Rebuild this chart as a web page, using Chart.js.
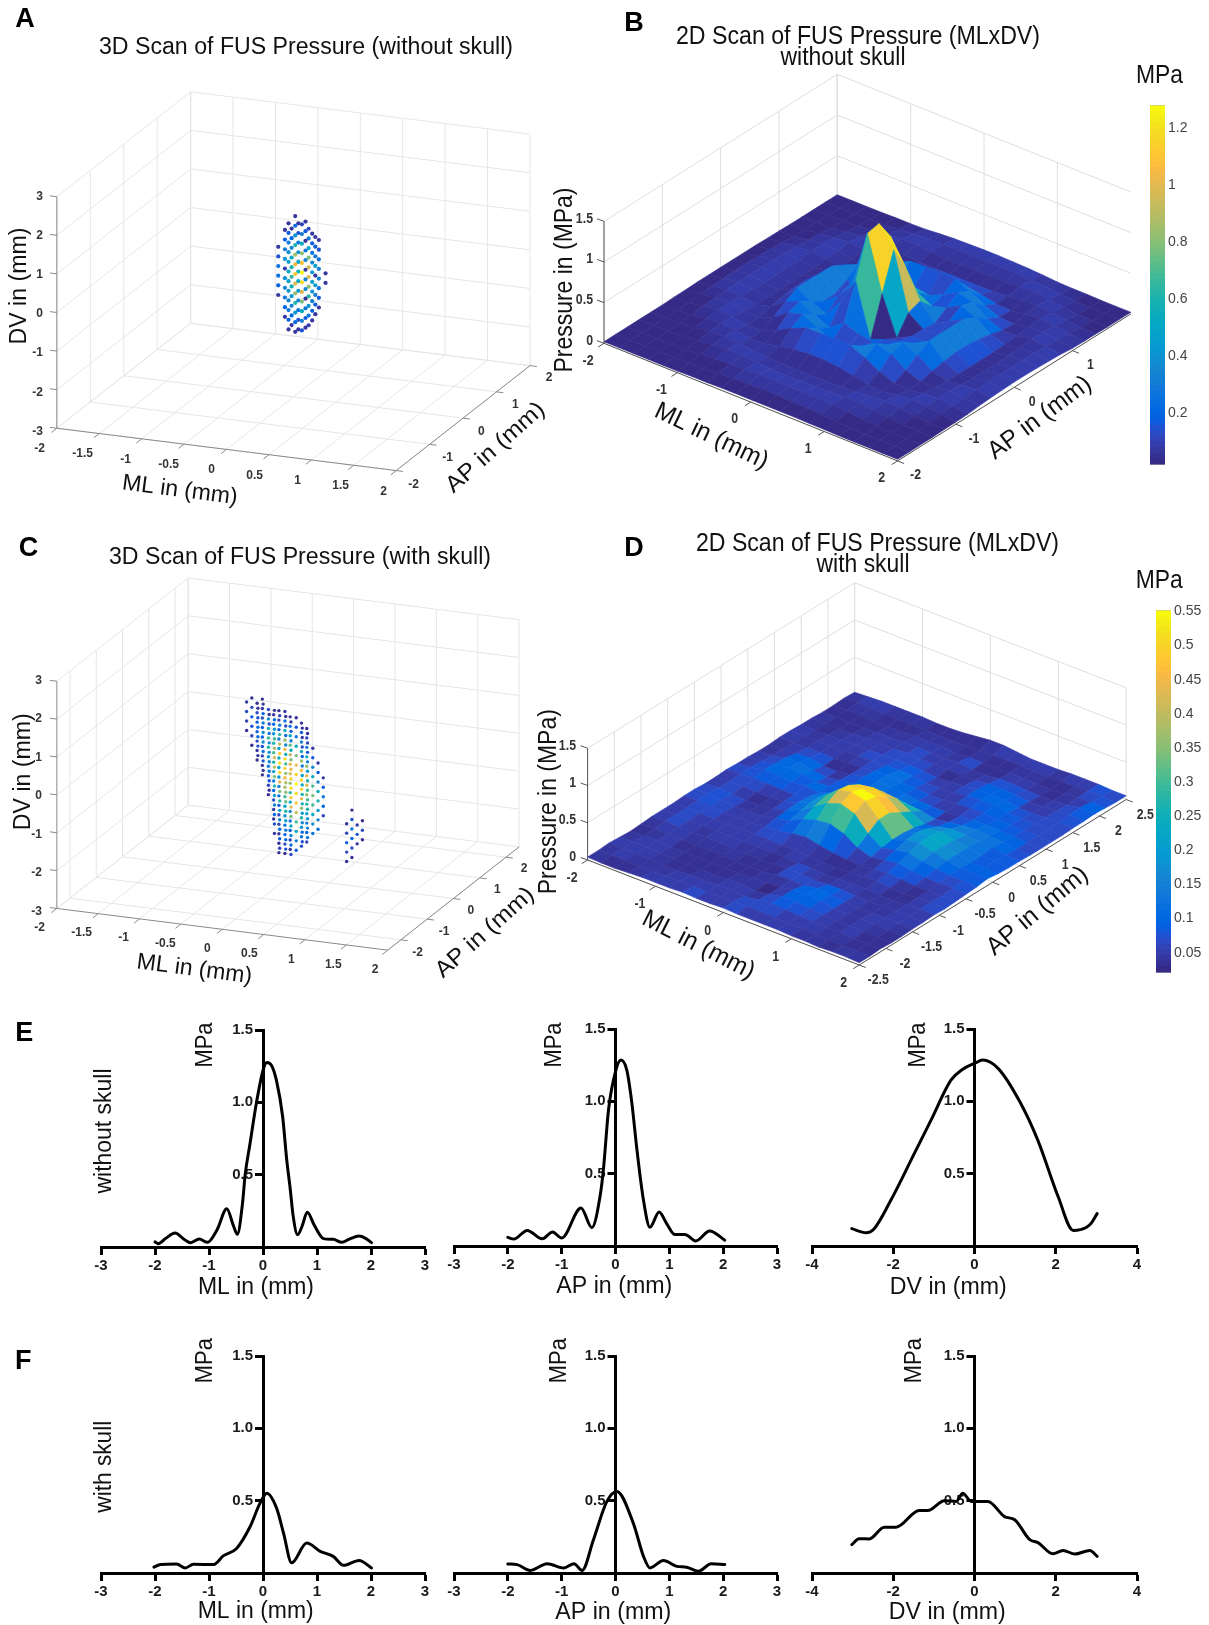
<!DOCTYPE html>
<html><head><meta charset="utf-8"><title>FUS pressure scans</title>
<style>html,body{margin:0;padding:0;background:#fff}body{position:relative;width:1209px;height:1625px;overflow:hidden}canvas{position:absolute}</style>
<script src="https://cdn.jsdelivr.net/npm/chart.js@4"></script></head><body>
<script>
// ---------- profile curves (mm, MPa) ----------
const eMlX=[-2,-1.94,-1.8,-1.63,-1.45,-1.34,-1.18,-1.03,-0.85,-0.67,-0.55,-0.475,-0.38,-0.33,-0.24,-0.12,0,0.07,0.15,0.25,0.364,0.44,0.5,0.56,0.64,0.72,0.82,0.95,1.12,1.3,1.46,1.6,1.78,1.9,2.01];
const eMlP=[.035,.023,.06,.097,.05,.03,.055,.032,.12,.265,.15,.088,.3,.5,.715,1.0,1.22,1.276,1.26,1.15,.9,.6,.415,.21,.085,.14,.24,.15,.058,.053,.032,.055,.076,.06,.03];
const eApX=[-2,-1.89,-1.64,-1.36,-1.17,-1,-.64,-.44,-.28,-.22,-.13,0,.1,.21,.3,.4,.52,.64,.81,.95,1.1,1.29,1.49,1.75,2.03];
const eApP=[.06,.048,.108,.05,.097,.055,.263,.127,.36,.547,.94,1.205,1.285,1.216,1.0,.66,.316,.13,.235,.155,.08,.08,.035,.104,.04];
const eDvX=[-3.02,-2.67,-2.47,-2.06,-1.48,-1.07,-.58,-.3,0,.2,.58,1.11,1.56,2.06,2.43,2.76,2.88,3.02];
const eDvP=[.12,.092,.12,.316,.64,.87,1.147,1.22,1.262,1.285,1.228,1.0,.73,.34,.108,.13,.16,.224];
const fMlX=[-2.02,-1.9,-1.6,-1.44,-1.29,-.92,-.73,-.49,-.24,-.055,.07,.25,.38,.53,.81,1.06,1.3,1.49,1.78,2.01];
const fMlP=[.04,.058,.062,.035,.06,.058,.12,.17,.32,.483,.552,.45,.276,.07,.207,.15,.115,.053,.087,.035];
const fApX=[-2,-1.83,-1.58,-1.27,-.96,-.77,-.62,-.41,-.16,.025,.33,.52,.64,.89,1.14,1.32,1.54,1.78,2.03];
const fApP=[.062,.058,.018,.064,.035,.064,.018,.23,.495,.564,.345,.115,.035,.087,.046,.04,.012,.064,.058];
const fDvX=[-3.02,-2.84,-2.59,-2.22,-1.93,-1.36,-1.15,-.74,-.45,-.29,-.08,.33,.74,.99,1.36,1.56,1.93,2.18,2.47,2.84,3.02];
const fDvP=[.196,.237,.235,.317,.317,.432,.432,.5,.495,.552,.495,.495,.39,.368,.23,.21,.133,.156,.131,.156,.115];
// ---------- tick values ----------
const mlTicksFine=[-2,-1.5,-1,-.5,0,.5,1,1.5,2];
const mlTicksCoarse=[-2,-1,0,1,2];
const apTicksFour=[-2,-1,0,1,2];
const apLabelsB=[-2,-1,0,1];
const apTicksD=[-2.5,-2,-1.5,-1,-.5,0,.5,1,1.5,2,2.5];
const dvTicks=[-3,-2,-1,0,1,2,3];
const pressureTicks=[0,.5,1,1.5];
const colorbarTicksB=[.2,.4,.6,.8,1,1.2];
const colorbarTicksD=[.05,.1,.15,.2,.25,.3,.35,.4,.45,.5,.55];
// ---------- 3D scans: [ML, AP, lowest DV, pressures going up in 0.25 mm DV steps] ----------
const scanWithoutSkull=[
[-.1,-.2,-.25,[.05,.18,.24,.26,.14,.05]],
[-.1,0,-.95,[.05,.2,.28,.34,.4,.07,.42,.3,.18,.05]],
[-.1,.2,-1.3,[.05,.2,.3,.42,.55,.65,.6,.5,.36,.2,.06]],
[-.1,.4,-1.55,[.05,.14,.25,.34,.44,.52,.56,.5,.4,.28,.14,.05]],
[.1,-.4,-.95,[.06,.18,.26,.34,.42,.48,.52,.46,.38,.28,.16,.05]],
[.1,-.2,-1.15,[.06,.22,.42,.62,.82,1.0,1.12,1.05,.85,.6,.4,.22,.06]],
[.1,0,-1.25,[.14,.3,.52,.78,1.0,1.2,1.27,1.1,.82,.52,.3,.1]],
[.1,.2,-1.25,[.08,.25,.42,.62,.82,1.0,.95,.78,.5,.3,.1]],
[.1,.4,-1.1,[.05,.16,.3,.45,.05,.45,.3,.16,.05]],
[.3,-.4,-.85,[.05,.16,.26,.04,.36,.34,.05,.34,.26,.04,.16,.05]],
[.3,-.2,-.8,[.05,.18,.3,.4,.46,.44,.36,.25,.16,.05]],
[.3,0,-.6,[.05,.16,.26,.32,.32,.24,.14,.05]],
[.3,.2,-.1,[.05,.06]]];
const scanWithSkull=[
[-.5,0,.75,[.03,.05,.06,.04]],
[-.5,.2,.25,[.03,.05,.07,.08,.06,.03]],
[-.5,.4,-.25,[.03,.04,.06,.08,.08,.06,.03]],
[-.5,.6,-.75,[.03,.04,.05,.07,.09,.08,.06,.04,.03]],
[-.3,-.2,.25,[.04,.07,.1,.1,.07,.04]],
[-.3,0,-.25,[.04,.07,.12,.16,.17,.14,.09,.04]],
[-.3,.2,-1,[.03,.05,.08,.14,.2,.26,.3,.26,.16,.06]],
[-.3,.4,-1.75,[.03,.04,.06,.09,.14,.2,.26,.3,.26,.18,.1,.04]],
[-.3,.6,-2.75,[.03,.03,.04,.05,.06,.08,.1,.14,.18,.22,.24,.2,.14,.08,.05,.03]],
[-.1,-.4,-.5,[.04,.08,.12,.16,.18,.16,.12,.07,.04]],
[-.1,-.2,-1.75,[.04,.07,.1,.15,.2,.27,.34,.4,.42,.38,.3,.2,.1,.04]],
[-.1,0,-2.25,[.05,.08,.1,.15,.2,.27,.35,.44,.5,.52,.48,.4,.28,.14,.05]],
[-.1,.2,-2.5,[.03,.06,.09,.12,.17,.22,.3,.38,.46,.5,.52,.46,.36,.24,.12,.04]],
[-.1,.4,-2.5,[.03,.06,.09,.12,.16,.22,.28,.36,.42,.44,.4,.32,.22,.12,.04]],
[.1,-.4,-2,[.07,.1,.14,.2,.26,.32,.36,.38,.36,.3,.24,.16,.1,.06,.03]],
[.1,-.2,-2.25,[.06,.1,.16,.24,.33,.42,.48,.52,.5,.44,.34,.24,.15,.08,.04]],
[.1,0,-2.25,[.08,.14,.22,.3,.4,.48,.52,.55,.5,.44,.34,.24,.14,.07,.03]],
[.1,.2,-2.25,[.06,.12,.18,.26,.36,.44,.5,.52,.46,.36,.25,.15,.08,.03]],
[.1,.4,-2.25,[.05,.09,.14,.2,.28,.36,.42,.44,.36,.24,.13,.06,.03]],
[.3,-.4,-1.75,[.07,.11,.15,.2,.24,.26,.24,.2,.14,.09,.06,.04,.03]],
[.3,-.2,-1.75,[.1,.15,.2,.26,.3,.3,.26,.2,.14,.08,.05,.03]],
[.3,0,-1.75,[.12,.17,.24,.3,.34,.3,.24,.16,.08,.04]],
[.3,.2,-1.75,[.1,.15,.2,.26,.24,.16,.08,.04]],
[.3,.4,-1.5,[.05,.09,.12,.08,.04]],
[.9,-.6,-2,[.03,.05,.08,.05,.03]],
[.9,-.4,-2,[.03,.06,.1,.12,.07,.03]],
[.9,-.2,-1.75,[.04,.07,.04]],
[.9,0,-1.75,[.03,.06,.03]]];
// ---------- 2D scans: rows by ML (-2..2, 0.2 step), columns by AP ----------
const surfaceWithoutSkull=[
[.02,.02,.02,.02,.02,.02,.025,.025,.03,.03,.03,.03,.03,.03,.025,.025,.02,.02,.02,.02,.02],
[.02,.02,.02,.02,.025,.025,.03,.045,.055,.06,.065,.065,.06,.055,.045,.03,.025,.025,.02,.02,.02],
[.02,.02,.02,.025,.03,.045,.06,.07,.08,.085,.085,.085,.085,.08,.07,.06,.045,.03,.025,.02,.02],
[.02,.02,.025,.03,.05,.07,.085,.085,.07,.065,.06,.06,.065,.07,.085,.085,.07,.05,.03,.025,.02],
[.02,.025,.03,.05,.07,.085,.07,.055,.04,.035,.035,.035,.035,.04,.055,.07,.085,.07,.05,.03,.025],
[.02,.025,.045,.07,.085,.07,.04,.05,.09,.12,.14,.14,.12,.09,.05,.04,.07,.085,.07,.045,.025],
[.025,.03,.06,.085,.07,.04,.05,.12,.22,.3,.3,.3,.3,.22,.12,.05,.04,.07,.085,.06,.03],
[.025,.045,.07,.085,.055,.05,.12,.25,.3,.2,.12,.12,.2,.3,.25,.12,.05,.055,.085,.07,.045],
[.03,.055,.08,.07,.04,.09,.22,.3,.2,.12,.25,.3,.15,.2,.3,.22,.09,.04,.07,.08,.055],
[.03,.06,.085,.065,.035,.12,.3,.2,.12,.35,.46,.85,.55,.3,.2,.3,.12,.035,.065,.085,.06],
[.03,.065,.085,.06,.035,.14,.3,.12,.25,.67,1.17,1.2,.95,.5,.15,.3,.14,.035,.06,.085,.065],
[.03,.065,.085,.06,.035,.14,.3,.12,.18,.03,.5,.95,.65,.25,.12,.3,.14,.035,.06,.085,.065],
[.03,.06,.085,.065,.035,.12,.3,.2,.15,.1,.03,.25,.3,.15,.2,.3,.12,.035,.065,.085,.06],
[.03,.055,.08,.07,.04,.09,.22,.3,.2,.15,.12,.12,.1,.2,.3,.22,.09,.04,.07,.08,.055],
[.025,.045,.07,.085,.055,.05,.12,.25,.3,.2,.12,.12,.2,.3,.25,.12,.05,.055,.085,.07,.045],
[.025,.03,.06,.085,.07,.04,.05,.12,.22,.3,.3,.3,.3,.22,.12,.05,.04,.07,.085,.06,.03],
[.02,.025,.045,.07,.085,.07,.04,.05,.09,.12,.14,.14,.12,.09,.05,.04,.07,.085,.07,.045,.025],
[.02,.025,.03,.05,.07,.085,.07,.055,.04,.035,.035,.035,.035,.04,.055,.07,.085,.07,.05,.03,.025],
[.02,.02,.025,.03,.05,.07,.085,.085,.07,.065,.06,.06,.065,.07,.085,.085,.07,.05,.03,.025,.02],
[.02,.02,.02,.025,.03,.045,.06,.07,.08,.085,.085,.085,.085,.08,.07,.06,.045,.03,.025,.02,.02],
[.02,.02,.02,.02,.025,.025,.03,.045,.055,.06,.065,.065,.06,.055,.045,.03,.025,.025,.02,.02,.02]];
const surfaceWithSkull=[
[.04,.04,.05,.04,.03,.04,.05,.05,.05,.06,.06,.05,.05,.06,.05,.05,.04,.04,.05,.05,.04,.04,.03,.03,.04,.03],
[.03,.05,.05,.05,.04,.05,.06,.06,.06,.07,.07,.06,.06,.07,.07,.06,.05,.05,.04,.04,.03,.03,.03,.04,.05,.04],
[.03,.04,.05,.05,.05,.05,.05,.05,.06,.06,.06,.05,.06,.08,.10,.10,.09,.06,.05,.05,.04,.03,.03,.04,.05,.05],
[.04,.04,.04,.04,.03,.04,.04,.05,.05,.05,.04,.03,.05,.08,.10,.11,.10,.07,.05,.05,.05,.04,.03,.03,.04,.05],
[.05,.04,.03,.03,.03,.04,.05,.05,.05,.05,.04,.04,.05,.07,.08,.10,.06,.03,.04,.05,.05,.05,.04,.03,.04,.05],
[.05,.05,.03,.03,.03,.04,.05,.05,.05,.05,.05,.06,.07,.07,.10,.06,.04,.03,.05,.06,.05,.05,.04,.03,.04,.05],
[.05,.05,.04,.03,.03,.04,.04,.05,.06,.07,.09,.11,.12,.11,.08,.08,.07,.06,.06,.06,.06,.05,.05,.04,.03,.04],
[.06,.05,.04,.03,.03,.03,.04,.05,.06,.08,.13,.17,.20,.20,.15,.10,.09,.1,.09,.07,.06,.06,.05,.04,.03,.04],
[.05,.05,.05,.04,.03,.03,.03,.04,.05,.12,.22,.30,.34,.33,.28,.20,.11,.11,.11,.08,.06,.05,.05,.04,.03,.05],
[.05,.05,.05,.04,.04,.03,.04,.05,.05,.14,.28,.42,.50,.48,.40,.26,.10,.1,.08,.07,.05,.05,.04,.03,.03,.07],
[.06,.06,.04,.02,.04,.06,.06,.04,.04,.10,.30,.48,.55,.50,.43,.28,.11,.08,.06,.05,.03,.05,.06,.04,.04,.09],
[.05,.06,.06,.05,.05,.06,.05,.04,.03,.07,.24,.42,.50,.47,.38,.26,.10,.06,.05,.05,.04,.04,.03,.03,.05,.09],
[.05,.06,.08,.09,.09,.06,.04,.03,.03,.05,.12,.22,.32,.32,.24,.16,.08,.05,.05,.06,.06,.05,.03,.03,.05,.07],
[.05,.05,.07,.09,.10,.09,.05,.04,.04,.04,.06,.10,.12,.12,.10,.06,.04,.05,.07,.09,.09,.07,.05,.04,.05,.05],
[.05,.05,.06,.07,.08,.07,.05,.04,.05,.06,.09,.14,.18,.20,.16,.10,.07,.06,.08,.1,.09,.07,.05,.04,.05,.05],
[.04,.05,.05,.05,.05,.05,.04,.05,.06,.08,.12,.17,.22,.22,.19,.14,.10,.08,.09,.1,.08,.06,.04,.03,.04,.05],
[.04,.04,.04,.04,.04,.04,.04,.03,.04,.07,.09,.13,.17,.16,.15,.13,.11,.09,.08,.07,.05,.04,.03,.03,.05,.06],
[.03,.04,.05,.05,.05,.04,.04,.03,.03,.05,.07,.10,.12,.12,.12,.12,.10,.08,.07,.06,.05,.05,.04,.04,.05,.06],
[.04,.03,.03,.04,.05,.05,.05,.05,.05,.05,.06,.08,.09,.08,.08,.10,.09,.07,.06,.06,.06,.06,.05,.06,.07,.06],
[.04,.03,.03,.03,.04,.05,.05,.06,.06,.06,.07,.08,.09,.08,.08,.07,.06,.06,.06,.06,.07,.08,.09,.07,.06,.05],
[.03,.03,.04,.03,.03,.04,.04,.05,.04,.05,.06,.07,.09,.07,.06,.06,.05,.05,.05,.05,.06,.06,.07,.06,.05,.05]];

// ---------- colormap ----------
const parula=[[.2081,.1663,.5292],[.2116,.1898,.5777],[.2123,.2138,.627],[.2081,.2386,.6771],[.1959,.2645,.7279],[.1707,.2919,.7792],[.1253,.3242,.8303],[.0591,.3598,.8683],[.0117,.3875,.882],[.006,.4086,.8828],[.0165,.4266,.8786],[.0329,.443,.872],[.0498,.4586,.8641],[.0629,.4737,.8554],[.0723,.4887,.8467],[.0779,.504,.8384],[.0793,.52,.8312],[.0749,.5375,.8263],[.0641,.557,.824],[.0488,.5772,.8228],[.0343,.5966,.8199],[.0265,.6137,.8135],[.0239,.6287,.8038],[.0231,.6418,.7913],[.0228,.6535,.7768],[.0267,.6642,.7607],[.0384,.6743,.7436],[.059,.6838,.7254],[.0843,.6928,.7062],[.1133,.7015,.6859],[.1453,.7098,.6646],[.1801,.7177,.6424],[.2178,.725,.6193],[.2586,.7317,.5954],[.3022,.7376,.5712],[.3482,.7424,.5473],[.3953,.7459,.5244],[.442,.7481,.5033],[.4871,.7491,.484],[.53,.7491,.4661],[.5709,.7485,.4494],[.6099,.7473,.4337],[.6473,.7456,.4188],[.6834,.7435,.4044],[.7184,.7411,.3905],[.7525,.7384,.3768],[.7858,.7356,.3633],[.8185,.7327,.3498],[.8507,.7299,.336],[.8824,.7274,.3217],[.9139,.7258,.3063],[.945,.7261,.2886],[.9739,.7314,.2666],[.9938,.7455,.2403],[.999,.7653,.2164],[.9955,.7861,.1967],[.988,.8066,.1794],[.9789,.8271,.1633],[.9697,.8481,.1475],[.9626,.8705,.1309],[.9589,.8949,.1132],[.9598,.9218,.0948],[.9661,.9514,.0755],[.9763,.9831,.0538]];
function colorOf(v,lo,hi){const i=Math.max(0,Math.min(63,Math.round((v-lo)/(hi-lo)*63)));const c=parula[i];return `rgb(${c[0]*255|0},${c[1]*255|0},${c[2]*255|0})`;}

// ---------- shared helpers ----------
const FONT='"Liberation Sans", Arial, sans-serif';
function makeCanvas(l,t,w,h){const c=document.createElement('canvas');c.width=w;c.height=h;c.style.cssText=`left:${l}px;top:${t}px;width:${w}px;height:${h}px`;document.body.appendChild(c);return c;}
function txt(t,x,y,o={}){return Object.assign({t,x,y,size:22,color:'#111',rot:0,align:'center',bold:false},o);}
function textPlugin(items,l,t){return{id:'txt',afterDraw(chart){const c=chart.ctx;for(const a of items){c.save();c.translate(a.x-l,a.y-t);c.rotate((a.rot||0)*Math.PI/180);c.font=`${a.bold?'bold ':''}${a.size}px ${FONT}`;c.fillStyle=a.color;c.textAlign=a.align;c.textBaseline='middle';let sx=a.sx||1;if(a.w)sx=a.w/c.measureText(a.t).width;c.scale(sx,1);c.fillText(a.t,0,1.5);c.restore();}}};}
function panelLetter(t,x,y){return txt(t,x,y,{size:27,bold:true,color:'#000'});}

// ---------- 3D panels ----------
function panel3D(cfg){
 const [l,t,w,h]=cfg.rect,P=(a,b,c)=>({x:cfg.o[0]+(a-cfg.mlR[0])*cfg.ml[0]+(b-cfg.apR[0])*cfg.ap[0],y:cfg.o[1]+(a-cfg.mlR[0])*cfg.ml[1]+(b-cfg.apR[0])*cfg.ap[1]+(c-cfg.zR[0])*cfg.zy});
 const [m0,m1]=cfg.mlR,[a0,a1]=cfg.apR,[z0,z1]=cfg.zR,gap={x:NaN,y:NaN},grid=[],axis=[];
 const seg=(arr,p,q)=>arr.push(p,q,gap);
 for(const m of cfg.mlGrid){seg(grid,P(m,a0,z0),P(m,a1,z0));}
 for(const m of cfg.backV){seg(grid,P(m,a1,z0),P(m,a1,z1));}
 for(const a of cfg.apGrid){seg(grid,P(m1,a,z0),P(m0,a,z0));seg(grid,P(m0,a,z0),P(m0,a,z1));}
 for(const z of cfg.zTicks){seg(grid,P(m0,a0,z),P(m0,a1,z));seg(grid,P(m0,a1,z),P(m1,a1,z));}
 seg(grid,P(m0,a1,z0),P(m0,a1,z1));
 const un=v=>{const n=Math.hypot(v[0],v[1]);return[v[0]/n,v[1]/n];},tk=cfg.tickLen,uA=un(cfg.ap),uM=un(cfg.ml);
 seg(axis,P(m0,a0,z0),P(m1,a0,z0));seg(axis,P(m1,a0,z0),P(m1,a1,z0));seg(axis,P(m0,a0,z0),P(m0,a0,z1));
 const items=[...cfg.texts];
 const lab=cfg.labelStyle;
 for(const v of cfg.mlLabels){const p=P(v,a0,z0);seg(axis,p,{x:p.x-uA[0]*tk,y:p.y-uA[1]*tk});items.push(txt(String(v),p.x+cfg.mlOff[0],p.y+cfg.mlOff[1],lab));}
 for(const v of cfg.apLabels){const p=P(m1,v,z0);seg(axis,p,{x:p.x+uM[0]*tk,y:p.y+uM[1]*tk});items.push(txt(String(v),p.x+cfg.apOff[0],p.y+cfg.apOff[1],lab));}
 for(const v of cfg.zTicks){const p=P(m0,a0,v);seg(axis,p,{x:p.x-tk,y:p.y-uM[1]*tk});items.push(txt(String(v),cfg.zLabelX,p.y+cfg.zOffY,Object.assign({},lab,{align:'right'})));}
 const datasets=[
  {type:'scatter',label:'grid',data:grid,showLine:true,borderColor:cfg.gridColor,borderWidth:1,pointRadius:0,spanGaps:false,order:3},
  {type:'scatter',label:'axes',data:axis,showLine:true,borderColor:cfg.axisColor,borderWidth:1,pointRadius:0,spanGaps:false,order:2}];
 if(cfg.scan){const pts=[],cols=[];for(const [m,a,d0,ps] of cfg.scan){ps.forEach((v,i)=>{pts.push(P(m,a,d0+i*.25));cols.push(colorOf(v,cfg.cLim[0],cfg.cLim[1]));});}
  datasets.push({type:'scatter',label:'scan',data:pts,pointRadius:cfg.dot,pointBorderWidth:0,pointBackgroundColor:cols,order:1});}
 const plugins=[textPlugin(items,l,t)];
 if(cfg.surface){const S=cfg.surface,ap=i=>cfg.apR[0]+i*.2,ml=i=>cfg.mlR[0]+i*.2;
  plugins.unshift({id:'surf',afterDatasetsDraw(ch){const c=ch.ctx,X=ch.scales.x,Y=ch.scales.y;c.save();c.lineJoin='round';
   const nA=S[0].length;
   for(let j=nA-2;j>=0;j--)for(let i=0;i<S.length-1;i++){
    const vs=[[i,j],[i+1,j],[i+1,j+1],[i,j+1]],col=colorOf(S[i][j],cfg.cLim[0],cfg.cLim[1]);
    c.beginPath();vs.forEach(([q,r],n)=>{const p=P(ml(q),ap(r),S[q][r]);const px=X.getPixelForValue(p.x),py=Y.getPixelForValue(p.y);n?c.lineTo(px,py):c.moveTo(px,py);});c.closePath();c.fillStyle=col;c.strokeStyle=col;c.lineWidth=.6;c.fill();c.stroke();}
   c.restore();}});}
 new Chart(makeCanvas(l,t,w,h),{type:'scatter',data:{datasets},plugins,options:{animation:false,responsive:false,devicePixelRatio:1,layout:{padding:0},events:[],
  plugins:{legend:{display:false},tooltip:{enabled:false},title:{display:false}},
  scales:{x:{type:'linear',display:false,min:l,max:l+w},y:{type:'linear',display:false,reverse:true,min:t,max:t+h}}}});
}
const lbl3D={size:12,bold:true,color:'#333'};
const lblSurf={size:14,bold:true,color:'#333',sx:.88};
panel3D({rect:[0,0,590,510],o:[53.6,431],ml:[86,10.75],ap:[33.9,-26.65],zy:-39.2,mlR:[-2,2],apR:[-2,2],zR:[-3,3],
 mlGrid:mlTicksFine,backV:mlTicksFine,apGrid:apTicksFour,zTicks:dvTicks,mlLabels:mlTicksFine,apLabels:apTicksFour,
 mlOff:[-14,16],apOff:[16,9],zLabelX:43,zOffY:-1,tickLen:7,gridColor:'#e6e6e6',axisColor:'#8a8a8a',labelStyle:lbl3D,
 scan:scanWithoutSkull,cLim:[.02,1.28],dot:2.1,
 texts:[panelLetter('A',25,18),txt('3D Scan of FUS Pressure (without skull)',306,46,{size:23,w:414}),
  txt('DV in (mm)',18.6,286,{size:23,w:117,rot:-90}),txt('ML in (mm)',180,489,{size:23,w:116,rot:7.5}),txt('AP in (mm)',494.6,446.7,{size:23,w:124,rot:-41.8})]});
panel3D({rect:[0,510,570,490],o:[53.6,911],ml:[83.9,10.6],ap:[26.64,-21],zy:-38.5,mlR:[-2,2],apR:[-2.5,2.5],zR:[-3,3],
 mlGrid:mlTicksFine,backV:mlTicksFine,apGrid:apTicksFour,zTicks:dvTicks,mlLabels:mlTicksFine,apLabels:apTicksFour,
 mlOff:[-14,15],apOff:[15,8],zLabelX:42,zOffY:-1,tickLen:7,gridColor:'#e6e6e6',axisColor:'#8a8a8a',labelStyle:lbl3D,
 scan:scanWithSkull,cLim:[.02,.55],dot:1.7,
 texts:[panelLetter('C',28.6,546.7),txt('3D Scan of FUS Pressure (with skull)',300,555.7,{size:23,w:382}),
  txt('DV in (mm)',22,771.7,{size:23,w:117,rot:-90}),txt('ML in (mm)',194.6,968,{size:23,w:116,rot:7.5}),txt('AP in (mm)',484,931.7,{size:23,w:124,rot:-41.8})]});
panel3D({rect:[540,0,669,510],o:[604,343.3],ml:[73.4,29.4],ap:[58.3,-36.75],zy:-81.3,mlR:[-2,2],apR:[-2,2],zR:[0,1.5],
 mlGrid:mlTicksCoarse,backV:[-1,0,1],apGrid:apTicksFour,zTicks:pressureTicks,mlLabels:mlTicksCoarse,apLabels:apLabelsB,
 mlOff:[-16,16],apOff:[18,13],zLabelX:593,zOffY:-4,tickLen:7,gridColor:'#dedede',axisColor:'#555',labelStyle:lblSurf,
 surface:surfaceWithoutSkull,cLim:[.021,1.28],
 texts:[panelLetter('B',634,22),txt('2D Scan of FUS Pressure (MLxDV)',858,36,{size:25,w:364}),txt('without skull',843,57,{size:25,w:125}),
  txt('Pressure in (MPa)',563.5,280,{size:25,w:185,rot:-90}),txt('ML in (mm)',712,435,{size:25,w:123,rot:25.6}),txt('AP in (mm)',1039,416.7,{size:25,w:122,rot:-36.7}),
  txt('MPa',1159.5,75,{size:25,w:47})]});
panel3D({rect:[525,510,684,490],o:[587.6,860],ml:[67.9,26.25],ap:[53.4,-33.1],zy:-74.5,mlR:[-2,2],apR:[-2.5,2.5],zR:[0,1.5],
 mlGrid:mlTicksCoarse,backV:[-1,0,1,2],apGrid:apTicksD,zTicks:pressureTicks,mlLabels:mlTicksCoarse,apLabels:apTicksD,
 mlOff:[-15.6,16.7],apOff:[19,14],zLabelX:576,zOffY:-4,tickLen:7,gridColor:'#dedede',axisColor:'#555',labelStyle:lblSurf,
 surface:surfaceWithSkull,cLim:[.021,.55],
 texts:[panelLetter('D',634,546.7),txt('2D Scan of FUS Pressure (MLxDV)',877.5,542.3,{size:25,w:363}),txt('with skull',863,564,{size:25,w:93}),
  txt('Pressure in (MPa)',548,801.7,{size:25,w:185,rot:-90}),txt('ML in (mm)',699,944,{size:25,w:123,rot:27}),txt('AP in (mm)',1036.7,910,{size:25,w:124,rot:-40}),
  txt('MPa',1159.3,579.3,{size:25,w:47})]});

// ---------- colour bars ----------
function colorbar(left,top,barW,barH,lo,hi,ticks,fmt){
 const datasets=parula.map((c,i)=>({data:[[lo+(hi-lo)*i/64,lo+(hi-lo)*(i+1)/64+.0005]],backgroundColor:colorOf(lo+(hi-lo)*i/63,lo,hi),grouped:false,barPercentage:1,categoryPercentage:1,borderWidth:0}));
 datasets.push({data:[[lo,hi]],backgroundColor:'rgba(0,0,0,0)',borderColor:'#777',borderWidth:1,borderSkipped:false,grouped:false,barPercentage:1,categoryPercentage:1});
 new Chart(makeCanvas(left-2,top-8,barW+2+40,barH+16),{type:'bar',data:{labels:[''],datasets},options:{animation:false,responsive:false,devicePixelRatio:1,events:[],
  layout:{padding:{left:2,right:0,top:8,bottom:8}},plugins:{legend:{display:false},tooltip:{enabled:false}},
  scales:{x:{display:false},y:{type:'linear',position:'right',min:lo,max:hi,afterFit(s){s.width=40;},afterBuildTicks(s){s.ticks=ticks.map(v=>({value:v}));},
   grid:{display:false,drawTicks:false},border:{display:false},ticks:{padding:3,color:'#444',font:{family:'"Liberation Sans Narrow","Liberation Sans",sans-serif',size:14},callback:fmt}}}}});
}
colorbar(1150,102,15,366,.021,1.28,colorbarTicksB,v=>String(v));
colorbar(1156,607,15,369,.0208,.5515,colorbarTicksD,v=>String(v));

// ---------- profile charts ----------
const yAxisAtZero={id:'yAxisAtZero',beforeDraw(chart){const y=chart.scales.y,d=chart.scales.x.getPixelForValue(0)-y.right;if(Math.abs(d)>.01){y.left+=d;y.right+=d;y._gridLineItems=null;y._labelItems=null;}}};
function profile(xs,ys,xMin,xMax,step,x0px,x1px,yTop,yBot,extra){
 const padL=100,padR=30,padT=35,axisH=60,w=x1px-x0px+padL+padR,h=yBot-yTop+padT+axisH,l=x0px-padL,t=yTop-padT;
 const AX=3;
 new Chart(makeCanvas(l,t,w,h),{type:'line',data:{datasets:[{data:xs.map((x,i)=>({x,y:ys[i]})),borderColor:'#000',borderWidth:3,pointRadius:0,cubicInterpolationMode:'monotone',borderCapStyle:'round',clip:false}]},
  plugins:[yAxisAtZero,textPlugin(extra,l,t)],
  options:{animation:false,responsive:false,devicePixelRatio:1,events:[],layout:{padding:{left:0,right:padR,top:padT,bottom:0}},
   plugins:{legend:{display:false},tooltip:{enabled:false}},
   scales:{x:{type:'linear',position:'bottom',min:xMin,max:xMax,afterFit(s){s.height=axisH;},border:{color:'#000',width:AX},
     grid:{drawOnChartArea:false,drawTicks:true,tickLength:8,tickColor:'#000',tickWidth:AX},
     ticks:{stepSize:step,padding:2,maxRotation:0,autoSkip:false,color:'#1a1a1a',font:{family:FONT,size:15,weight:'bold'},callback:v=>String(v)}},
    y:{type:'linear',position:'left',min:0,max:1.5,afterFit(s){s.width=padL;},border:{color:'#000',width:AX},
     grid:{drawOnChartArea:false,drawTicks:true,tickLength:8,tickColor:'#000',tickWidth:AX},
     ticks:{stepSize:.5,padding:2,color:'#1a1a1a',font:{family:FONT,size:15,weight:'bold'},callback:v=>v===0?'':v.toFixed(1)}}}}});
}
const T22={size:23};
profile(eMlX,eMlP,-3,3,1,101,425,1030,1247,[panelLetter('E',24.3,1032),txt('without skull',102.7,1131,{...T22,w:125,rot:-90}),txt('MPa',204,1045,{...T22,w:45,rot:-90}),txt('ML in (mm)',256,1286,{...T22,w:116})]);
profile(eApX,eApP,-3,3,1,454,777,1029,1246,[txt('MPa',552.7,1045,{...T22,w:45,rot:-90}),txt('AP in (mm)',614.3,1285.3,{...T22,w:116})]);
profile(eDvX,eDvP,-4,4,2,812,1137,1029,1246,[txt('MPa',917.3,1045,{...T22,w:45,rot:-90}),txt('DV in (mm)',948.3,1286,{...T22,w:117})]);
profile(fMlX,fMlP,-3,3,1,101,425,1356,1573,[panelLetter('F',23.3,1360),txt('with skull',102.7,1466.7,{...T22,w:92,rot:-90}),txt('MPa',204,1360.7,{...T22,w:45,rot:-90}),txt('ML in (mm)',255.7,1610,{...T22,w:116})]);
profile(fApX,fApP,-3,3,1,454,777,1356,1573,[txt('MPa',558.3,1360.7,{...T22,w:45,rot:-90}),txt('AP in (mm)',613.3,1610.7,{...T22,w:116})]);
profile(fDvX,fDvP,-4,4,2,812,1137,1356,1573,[txt('MPa',913.3,1360.7,{...T22,w:45,rot:-90}),txt('DV in (mm)',947.3,1610.7,{...T22,w:117})]);
</script></body></html>
